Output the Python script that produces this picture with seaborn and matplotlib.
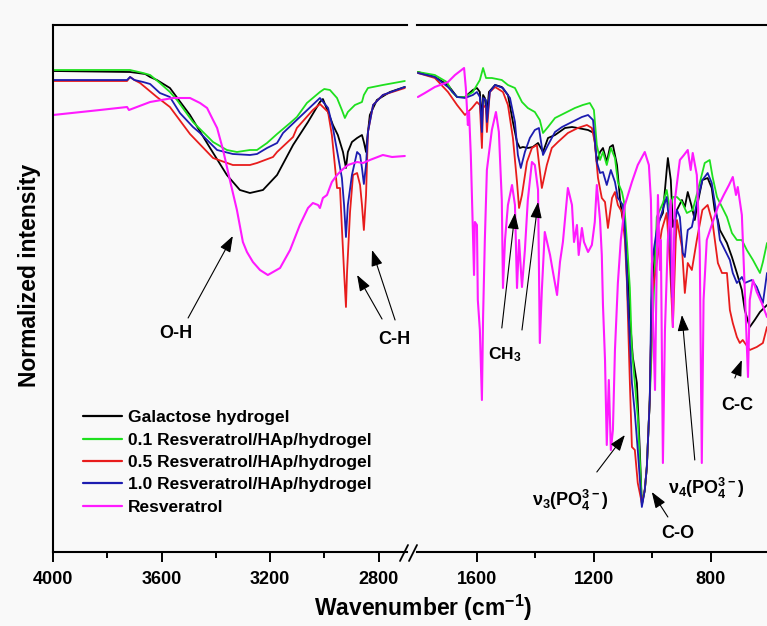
import matplotlib
matplotlib.use("Agg")
import matplotlib.pyplot as plt
import seaborn as sns
from matplotlib.lines import Line2D

# ---------------- data (wavenumber, normalized intensity a.u.) ----------------
# left panel (4000 - 2700 cm-1)
black_L_wn = [4000, 3716, 3660, 3642, 3617, 3569, 3495, 3421, 3359, 3311, 3274, 3226, 3174, 3115, 3060, 3016, 3005,
              2986, 2968, 2950, 2931, 2920, 2913, 2898, 2879, 2861, 2854, 2846, 2843, 2832, 2806, 2758, 2703]
black_L_v = [481, 480, 478, 475, 472, 464, 437, 404, 377, 362, 359, 362, 377, 407, 430, 450, 453,
             440, 427, 417, 400, 384, 400, 410, 414, 417, 410, 400, 410, 437, 452, 460, 465]

green_L_wn = [4000, 3716, 3668, 3642, 3606, 3569, 3543, 3484, 3410, 3359, 3322, 3274, 3248, 3211, 3174, 3126, 3101,
              3064, 3016, 3000, 2979, 2953, 2935, 2924, 2913, 2887, 2861, 2854, 2839, 2784, 2703]
green_L_v = [482, 482, 479, 477, 469, 460, 452, 430, 410, 402, 400, 402, 402, 409, 418, 429, 435,
             449, 460, 463, 462, 454, 442, 434, 440, 447, 450, 457, 464, 467, 471]

red_L_wn = [4000, 3727, 3716, 3700, 3679, 3617, 3569, 3495, 3410, 3337, 3274, 3248, 3189, 3174, 3115, 3101, 3042,
            3016, 2986, 2972, 2961, 2953, 2942, 2935, 2927, 2920, 2916, 2905, 2894, 2879, 2868, 2861, 2854, 2846,
            2839, 2820, 2784, 2703]
red_L_v = [471, 471, 475, 472, 469, 455, 445, 418, 394, 387, 387, 389, 395, 400, 415, 424, 442,
           448, 440, 417, 387, 364, 364, 324, 280, 245, 280, 340, 377, 379, 367, 347, 322, 357,
           420, 447, 457, 464]

blue_L_wn = [4000, 3727, 3716, 3700, 3668, 3642, 3606, 3569, 3532, 3484, 3458, 3395, 3337, 3274, 3248, 3211, 3174,
             3152, 3090, 3016, 2986, 2968, 2950, 2935, 2927, 2920, 2913, 2898, 2879, 2868, 2861, 2854, 2846, 2839,
             2820, 2784, 2703]
blue_L_v = [472, 472, 475, 472, 470, 468, 459, 455, 439, 425, 419, 402, 398, 397, 398, 404, 409,
            419, 435, 454, 444, 424, 397, 374, 347, 315, 347, 377, 400, 397, 384, 368, 387, 420,
            447, 457, 465]

mag_L_wn = [4000, 3827, 3727, 3720, 3642, 3558, 3495, 3458, 3432, 3410, 3395, 3373, 3348, 3322, 3300, 3285, 3263,
            3237, 3208, 3163, 3126, 3090, 3060, 3042, 3023, 3016, 3005, 2990, 2972, 2953, 2935, 2913, 2879, 2857,
            2832, 2784, 2750, 2703]
mag_L_v = [437, 442, 445, 442, 450, 454, 454, 449, 444, 432, 424, 402, 372, 342, 310, 300, 290,
           282, 277, 284, 302, 327, 344, 349, 347, 344, 354, 357, 370, 377, 382, 387, 390, 389,
           392, 397, 395, 396]

# right panel (1800 - 600 cm-1)
green_R_wn = [1802, 1744, 1703, 1685, 1668, 1641, 1614, 1590, 1579, 1569, 1549, 1515, 1494, 1470, 1446, 1426, 1402,
              1385, 1374, 1357, 1333, 1299, 1265, 1238, 1214, 1200, 1190, 1179, 1169, 1156, 1142, 1128, 1118, 1104,
              1097, 1087, 1077, 1070, 1060, 1050, 1036, 1026, 1019, 1009, 998, 985, 964, 951, 940, 930, 916, 899,
              882, 862, 838, 821, 804, 794, 779, 762, 745, 728, 711, 694, 677, 656, 632, 622, 608]
green_R_v = [480, 477, 470, 460, 455, 455, 460, 472, 484, 474, 474, 472, 467, 464, 450, 444, 440,
             432, 419, 425, 434, 439, 444, 447, 449, 442, 407, 392, 400, 387, 404, 394, 370, 360,
             350, 310, 264, 202, 169, 135, 49, 62, 85, 152, 235, 335, 349, 362, 342, 355, 355, 350,
             339, 342, 369, 389, 392, 375, 355, 345, 335, 319, 312, 312, 302, 292, 279, 290, 309]

black_R_wn = [1802, 1744, 1699, 1668, 1641, 1614, 1600, 1590, 1583, 1579, 1573, 1566, 1559, 1538, 1515, 1494, 1477,
              1463, 1453, 1443, 1426, 1409, 1391, 1374, 1357, 1333, 1299, 1275, 1255, 1220, 1200, 1190, 1179, 1169,
              1156, 1145, 1135, 1121, 1111, 1104, 1094, 1087, 1077, 1067, 1053, 1043, 1036, 1026, 1019, 1009, 1002,
              991, 981, 964, 951, 947, 937, 930, 916, 899, 889, 879, 865, 855, 845, 829, 811, 797, 787, 776, 769,
              745, 728, 711, 694, 684, 667, 650, 632, 615, 608]
black_R_v = [480, 475, 467, 455, 455, 462, 464, 460, 430, 457, 454, 437, 460, 467, 465, 457, 430,
             410, 404, 405, 404, 405, 409, 400, 414, 417, 424, 425, 424, 422, 419, 390, 400, 404,
             390, 405, 407, 387, 354, 337, 324, 302, 235, 195, 169, 102, 47, 62, 85, 152, 252,
             302, 329, 339, 382, 394, 372, 325, 342, 352, 345, 360, 345, 332, 349, 372, 374, 364, 342, 332, 322,
             309, 295, 279, 262, 242, 225, 232, 240, 245, 247]

red_R_wn = [1802, 1744, 1699, 1668, 1641, 1617, 1600, 1590, 1583, 1579, 1569, 1566, 1556, 1538, 1511, 1494, 1477,
            1463, 1456, 1446, 1429, 1412, 1395, 1378, 1361, 1344, 1323, 1289, 1255, 1224, 1207, 1197, 1186, 1173,
            1162, 1152, 1138, 1128, 1118, 1104, 1094, 1087, 1077, 1070, 1060, 1050, 1036, 1026, 1019, 1009, 1002,
            985, 968, 951, 940, 930, 920, 916, 899, 889, 879, 865, 848, 829, 811, 794, 776, 762, 745, 735, 725,
            711, 701, 691, 667, 643, 622, 608]
red_R_v = [479, 474, 460, 447, 437, 444, 450, 447, 404, 447, 444, 420, 460, 465, 460, 447, 414,
           370, 344, 357, 390, 404, 407, 364, 387, 404, 410, 419, 424, 427, 424, 410, 374, 354,
           350, 324, 354, 360, 347, 340, 312, 269, 169, 105, 102, 69, 49, 62, 85, 152, 255,
           289, 322, 339, 289, 225, 312, 332, 305, 259, 289, 282, 312, 342, 347, 329, 289, 279, 279, 242, 229,
           215, 209, 212, 202, 205, 209, 225]

blue_R_wn = [1802, 1744, 1699, 1668, 1641, 1614, 1600, 1590, 1583, 1579, 1569, 1566, 1556, 1538, 1511, 1487, 1470,
             1460, 1450, 1436, 1419, 1402, 1388, 1374, 1357, 1333, 1309, 1275, 1241, 1220, 1203, 1190, 1179, 1169,
             1156, 1142, 1128, 1118, 1108, 1101, 1094, 1084, 1070, 1060, 1050, 1036, 1026, 1019, 1009, 1002,
             985, 968, 951, 940, 933, 923, 916, 906, 896, 889, 879, 865, 848, 829, 811, 797, 779, 769, 752, 735,
             725, 711, 694, 684, 660, 643, 622, 608]
blue_R_v = [479, 475, 465, 455, 454, 457, 460, 455, 420, 454, 452, 430, 460, 467, 464, 454, 430,
            397, 384, 400, 414, 422, 424, 397, 407, 420, 425, 430, 435, 437, 432, 390, 379, 380,
            367, 382, 370, 354, 350, 347, 324, 252, 169, 139, 102, 45, 62, 85, 152, 289,
            322, 339, 355, 322, 255, 329, 342, 335, 299, 295, 322, 325, 349, 372, 379, 369, 335, 312, 302, 292,
            279, 269, 275, 269, 272, 265, 249, 279]

mag_R_wn = [1802, 1778, 1744, 1699, 1675, 1644, 1638, 1631, 1627, 1621,
            1614, 1610, 1607, 1600, 1597, 1590, 1583, 1579, 1573, 1566,
            1549, 1535, 1525, 1515, 1511, 1504, 1494, 1480, 1470, 1463,
            1456, 1446, 1436, 1426, 1412, 1402, 1391, 1385, 1378, 1368,
            1350, 1340, 1326, 1316, 1306, 1289, 1275, 1268, 1258, 1252,
            1241, 1234, 1220, 1207, 1197, 1190, 1179, 1173, 1169, 1162,
            1156, 1149, 1142, 1135, 1128, 1118, 1108, 1094, 1070, 1050,
            1026, 1012, 1005, 998, 991, 985, 981, 974, 971, 964,
            957, 947, 937, 930, 923, 906, 892, 879, 869, 862,
            848, 838, 831, 825, 814, 797, 776, 756, 738, 725,
            714, 708, 694, 684, 673, 667, 656, 643, 626, 608]
mag_R_v = [455, 459, 465, 470, 477, 484, 464, 427, 440, 397,
           322, 277, 330, 327, 252, 222, 152, 235, 312, 382,
           422, 440, 420, 352, 264, 312, 347, 367, 347, 264,
           312, 265, 302, 352, 390, 387, 362, 209, 262, 320,
           297, 280, 257, 290, 310, 364, 347, 310, 327, 297,
           324, 310, 300, 307, 330, 367, 332, 297, 247, 192,
           107, 172, 102, 122, 202, 269, 312, 347, 370, 387,
           400, 387, 352, 232, 162, 292, 357, 282, 312, 89,
           222, 312, 352, 225, 352, 392, 397, 402, 382, 399,
           377, 302, 89, 252, 312, 327, 345, 357, 367, 375,
           357, 365, 337, 262, 175, 252, 272, 260, 249, 235]

labels = ["Galactose hydrogel", "0.1 Resveratrol/HAp/hydrogel", "0.5 Resveratrol/HAp/hydrogel",
          "1.0 Resveratrol/HAp/hydrogel", "Resveratrol"]
colors = ["#000000", "#1fe01f", "#e81c1c", "#1c1cb0", "#ff1aff"]

left_series = [(black_L_wn, black_L_v), (green_L_wn, green_L_v), (red_L_wn, red_L_v),
               (blue_L_wn, blue_L_v), (mag_L_wn, mag_L_v)]
right_series = [(black_R_wn, black_R_v), (green_R_wn, green_R_v), (red_R_wn, red_R_v),
                (blue_R_wn, blue_R_v), (mag_R_wn, mag_R_v)]

# ---------------- style ----------------
sns.set_theme(style="ticks")
plt.rcParams["font.family"] = ["Liberation Sans", "DejaVu Sans"]
plt.rcParams["font.weight"] = "bold"
plt.rcParams["text.color"] = "black"
plt.rcParams["axes.labelcolor"] = "black"
plt.rcParams["xtick.color"] = "black"
plt.rcParams["ytick.color"] = "black"
plt.rcParams["mathtext.fontset"] = "custom"
plt.rcParams["mathtext.rm"] = "Liberation Sans"
plt.rcParams["mathtext.it"] = "Liberation Sans:italic"
plt.rcParams["mathtext.bf"] = "Liberation Sans:bold"

W, H = 767, 626
BG = "#f9f9f9"


def fx(px):
    return px / W


def fy(py):
    return 1 - py / H


fig = plt.figure(figsize=(W / 100, H / 100), dpi=100, facecolor=BG)
ax_l = fig.add_axes([fx(53), fy(552), (407 - 53) / W, 527 / H])
ax_r = fig.add_axes([fx(417), fy(552), (767 - 417) / W, 527 / H])

for ax, series in ((ax_l, left_series), (ax_r, right_series)):
    ax.set_facecolor(BG)
    for (wn, v), c, lab in zip(series, colors, labels):
        sns.lineplot(x=wn, y=v, ax=ax, color=c, lw=1.5 if lab == "Resveratrol" else 1.3,
                     sort=False, estimator=None)
    ax.set_xlabel("")
    ax.set_ylabel("")
    ax.set_ylim(0, 527)
    ax.set_yticks([])
    ax.tick_params(axis="y", left=False, right=False, labelleft=False)
    ax.tick_params(axis="x", which="major", direction="out", length=7, width=1.4,
                   labelsize=13, pad=7, colors="black", labelcolor="black")
    ax.tick_params(axis="x", which="minor", direction="out", length=4, width=1.4, bottom=True)
    for s in ax.spines.values():
        s.set_linewidth(1.5)
        s.set_color("black")

ax_l.set_xlim(4000, 2695)
ax_l.set_xticks([4000, 3600, 3200, 2800])
ax_l.set_xticks([3800, 3400, 3000], minor=True)
ax_l.spines["right"].set_visible(False)

ax_r.set_xlim(1805, 608)
ax_r.set_xticks([1600, 1200, 800])
ax_r.set_xticks([1400, 1000], minor=True)
ax_r.spines["left"].set_visible(False)
ax_r.spines["right"].set_visible(False)

for ax in (ax_l, ax_r):
    for lbl in ax.get_xticklabels():
        lbl.set_fontweight("bold")
        lbl.set_color("black")

# axis break marks
for x0 in (400, 409):
    fig.add_artist(Line2D([fx(x0), fx(x0 + 8)], [fy(561), fy(545)], transform=fig.transFigure,
                          color="black", lw=1.3))

# axis labels
fig.text(fx(30), fy(275), "Normalized intensity", rotation=90, fontsize=16.5, fontweight="bold",
         ha="center", va="center", color="black")
fig.text(fx(423), fy(608), r"Wavenumber (cm$^{\mathbf{-1}}$)", fontsize=16.5, fontweight="bold",
         ha="center", va="center", color="black")

# legend
handles = [Line2D([], [], color=c, lw=1.6) for c in colors]
leg = ax_l.legend(handles, labels, loc="upper left", bbox_to_anchor=(fx(83), fy(410)),
                  bbox_transform=fig.transFigure, frameon=False, borderpad=0, borderaxespad=0,
                  handlelength=2.27, handletextpad=0.34, labelspacing=0.42,
                  prop={"size": 12.5, "weight": "bold"})
for t in leg.get_texts():
    t.set_color("black")

# annotations
AP = dict(arrowstyle="-|>,head_length=0.7,head_width=0.25", color="black", lw=0.8,
          shrinkA=0, shrinkB=0, mutation_scale=14)
TXT = dict(fontsize=13, fontweight="bold", ha="center", va="center", color="black")

ax_l.annotate("", xy=(3337, 316), xytext=(3502, 234), arrowprops=AP)
ax_l.text(3547, 219, "O-H", **TXT)
ax_l.annotate("", xy=(2879, 277), xytext=(2787, 233), arrowprops=AP)
ax_l.annotate("", xy=(2824, 302), xytext=(2739, 232), arrowprops=AP)
ax_l.text(2743, 213, "C-H", **TXT)

ax_r.annotate("", xy=(1470, 339), xytext=(1515, 224), arrowprops=AP)
ax_r.annotate("", xy=(1391, 350), xytext=(1446, 222), arrowprops=AP)
ax_r.text(1504, 197, r"CH$_3$", fontsize=12.5, fontweight="bold", ha="center", va="center", color="black")

ax_r.annotate("", xy=(1094, 117), xytext=(1190, 80), arrowprops=AP)
ax_r.text(1282, 52, r"ν$_3$(PO$_4^{3-}$)", **TXT)
ax_r.annotate("", xy=(1002, 60), xytext=(947, 35), arrowprops=AP)
ax_r.text(913, 19, "C-O", **TXT)
ax_r.annotate("", xy=(899, 237), xytext=(855, 92), arrowprops=AP)
ax_r.text(817, 64, r"ν$_4$(PO$_4^{3-}$)", **TXT)
ax_r.annotate("", xy=(694, 192), xytext=(718, 174), arrowprops=AP)
ax_r.text(708, 147, "C-C", **TXT)

fig.savefig("out.png", dpi=100, facecolor=BG)
